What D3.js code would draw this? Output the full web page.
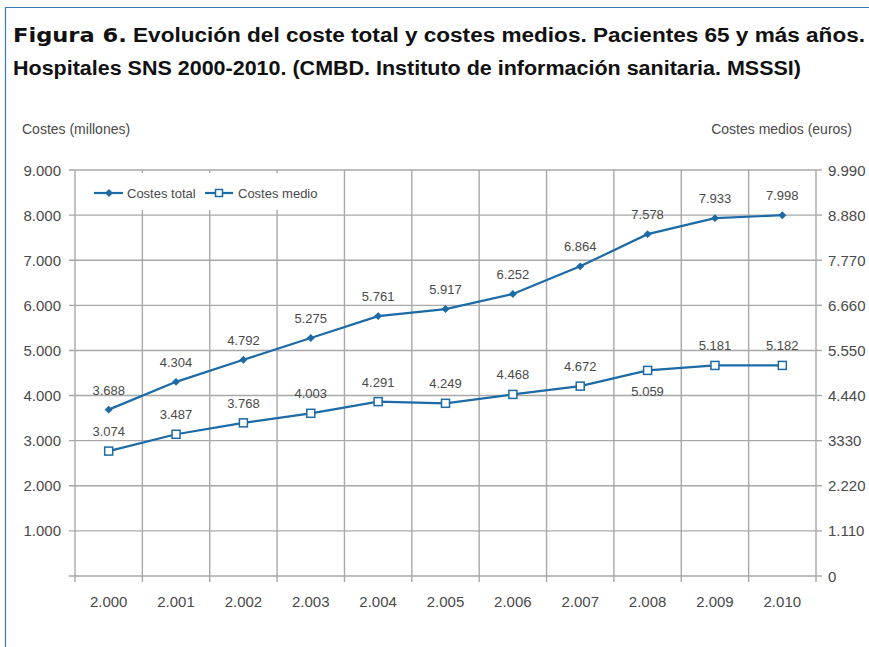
<!DOCTYPE html>
<html><head><meta charset="utf-8">
<script src="https://cdn.jsdelivr.net/npm/d3@7"></script>
<style>body{margin:0;background:#fff}svg{display:block}</style>
</head><body><svg id="c" width="869" height="647"></svg>
<script>
const years = [2000,2001,2002,2003,2004,2005,2006,2007,2008,2009,2010];
const yearLabels = ["2.000","2.001","2.002","2.003","2.004","2.005","2.006","2.007","2.008","2.009","2.010"];
const costesTotal = [3688,4304,4792,5275,5761,5917,6252,6864,7578,7933,7998];
const costesMedio = [3074,3487,3768,4003,4291,4249,4468,4672,5059,5181,5182];
const leftTicks = [0,1000,2000,3000,4000,5000,6000,7000,8000,9000];
const leftTickLabels = ["","1.000","2.000","3.000","4.000","5.000","6.000","7.000","8.000","9.000"];
const rightTicks = [0,1110,2220,3330,4440,5550,6660,7770,8880,9990];
const rightTickLabels = ["0","1.110","2.220","3330","4.440","5.550","6.660","7.770","8.880","9.990"];
const medioLabelBelow = [2008];

const loc = d3.formatLocale({decimal:",", thousands:".", grouping:[3], currency:["","€"]});
const fmt = loc.format(",.0f");
const svg = d3.select("#c");
const blue = "#1c6aa6", grid = "#a8a8a8", txt = "#4a4a4a";
const L=75, R=816, T=170, B=576;
const x = d3.scaleBand().domain(years).range([L,R]);
const yL = d3.scaleLinear().domain([0,9000]).range([B,T]);
const yR = d3.scaleLinear().domain([0,9990]).range([B,T]);
const cx = d => x(d)+x.bandwidth()/2;

// frame
svg.append("path").attr("d","M5.5,647 L5.5,7.5 L869,7.5").attr("fill","none").attr("stroke","#3b7ab8").attr("stroke-width",1.2);

// title
const title = svg.append("g").attr("font-family","'Liberation Sans', Arial, sans-serif").attr("font-weight","bold").attr("font-size",20).attr("fill","#111");
const t1 = title.append("text").attr("x",13).attr("y",42).attr("textLength",852).attr("lengthAdjust","spacingAndGlyphs");
t1.append("tspan").attr("font-weight","900").attr("font-family","'DejaVu Sans', sans-serif").text("Figura 6.");
t1.append("tspan").text(" Evolución del coste total y costes medios. Pacientes 65 y más años.");
title.append("text").attr("x",13).attr("y",75).attr("textLength",788).attr("lengthAdjust","spacingAndGlyphs")
  .text("Hospitales SNS 2000-2010. (CMBD. Instituto de información sanitaria. MSSSI)");

const g = svg.append("g").attr("font-family","'Liberation Sans', Arial, sans-serif");

// axis titles
g.append("text").attr("x",22).attr("y",134).attr("font-size",14).attr("fill",txt).text("Costes (millones)");
g.append("text").attr("x",852).attr("y",134).attr("text-anchor","end").attr("font-size",14).attr("fill",txt).text("Costes medios (euros)");

// grid
g.append("g").selectAll("line").data(leftTicks).join("line")
  .attr("x1",L-6).attr("x2",R).attr("y1",d=>yL(d)).attr("y2",d=>yL(d)).attr("stroke",grid).attr("stroke-width",1.4);
const bounds = years.map(d=>x(d)).concat([R]);
g.append("g").selectAll("line").data(bounds).join("line")
  .attr("x1",d=>d).attr("x2",d=>d).attr("y1",T).attr("y2",B+6).attr("stroke",grid).attr("stroke-width",1.4);
g.append("g").selectAll("line").data(rightTicks).join("line")
  .attr("x1",R).attr("x2",R+6).attr("y1",d=>yR(d)).attr("y2",d=>yR(d)).attr("stroke",grid).attr("stroke-width",1.4);

// tick labels
g.append("g").selectAll("text").data(leftTicks).join("text")
  .attr("x",61).attr("y",d=>yL(d)+5.5).attr("text-anchor","end").attr("font-size",15).attr("fill",txt).text((d,i)=>leftTickLabels[i]);
g.append("g").selectAll("text").data(rightTicks).join("text")
  .attr("x",828).attr("y",d=>yR(d)+5.5).attr("font-size",15).attr("fill",txt).text((d,i)=>rightTickLabels[i]);
g.append("g").selectAll("text").data(years).join("text")
  .attr("x",cx).attr("y",607).attr("text-anchor","middle").attr("font-size",15).attr("fill",txt).text((d,i)=>yearLabels[i]);

// legend box
const lg = g.append("g");
lg.append("rect").attr("x",80).attr("y",173).attr("width",252).attr("height",37).attr("fill","#fff");
lg.append("line").attr("x1",94).attr("x2",123).attr("y1",193).attr("y2",193).attr("stroke",blue).attr("stroke-width",2.2);
lg.append("path").attr("d",d3.symbol(d3.symbolDiamond2,40)()).attr("transform","translate(109,193)").attr("fill",blue);
lg.append("text").attr("x",127).attr("y",197.5).attr("font-size",13).attr("fill",txt).text("Costes total");
lg.append("line").attr("x1",205).attr("x2",233).attr("y1",193).attr("y2",193).attr("stroke",blue).attr("stroke-width",2.2);
lg.append("rect").attr("x",215.5).attr("y",189.5).attr("width",7).attr("height",7).attr("fill","#fff").attr("stroke",blue).attr("stroke-width",1.5);
lg.append("text").attr("x",238).attr("y",197.5).attr("font-size",13).attr("fill",txt).text("Costes medio");

// lines
const lineT = d3.line().x((d,i)=>cx(years[i])).y(d=>yL(d));
const lineM = d3.line().x((d,i)=>cx(years[i])).y(d=>yR(d));
g.append("path").attr("d",lineT(costesTotal)).attr("fill","none").attr("stroke",blue).attr("stroke-width",2.2);
g.append("path").attr("d",lineM(costesMedio)).attr("fill","none").attr("stroke",blue).attr("stroke-width",2.2);

g.append("g").selectAll("path").data(costesTotal).join("path")
  .attr("d",d3.symbol(d3.symbolDiamond2,40)()).attr("transform",(d,i)=>`translate(${cx(years[i])},${yL(d)})`).attr("fill",blue);
g.append("g").selectAll("rect").data(costesMedio).join("rect")
  .attr("x",(d,i)=>cx(years[i])-4).attr("y",d=>yR(d)-4).attr("width",8).attr("height",8)
  .attr("fill","#fff").attr("stroke",blue).attr("stroke-width",1.5);

// data labels
g.append("g").selectAll("text").data(costesTotal).join("text")
  .attr("x",(d,i)=>cx(years[i])).attr("y",d=>yL(d)-15).attr("text-anchor","middle").attr("font-size",13).attr("fill",txt).text(fmt);
g.append("g").selectAll("text").data(costesMedio).join("text")
  .attr("x",(d,i)=>cx(years[i])).attr("y",(d,i)=>medioLabelBelow.includes(years[i]) ? yR(d)+26 : yR(d)-15)
  .attr("text-anchor","middle").attr("font-size",13).attr("fill",txt).text(fmt);
</script></body></html>
